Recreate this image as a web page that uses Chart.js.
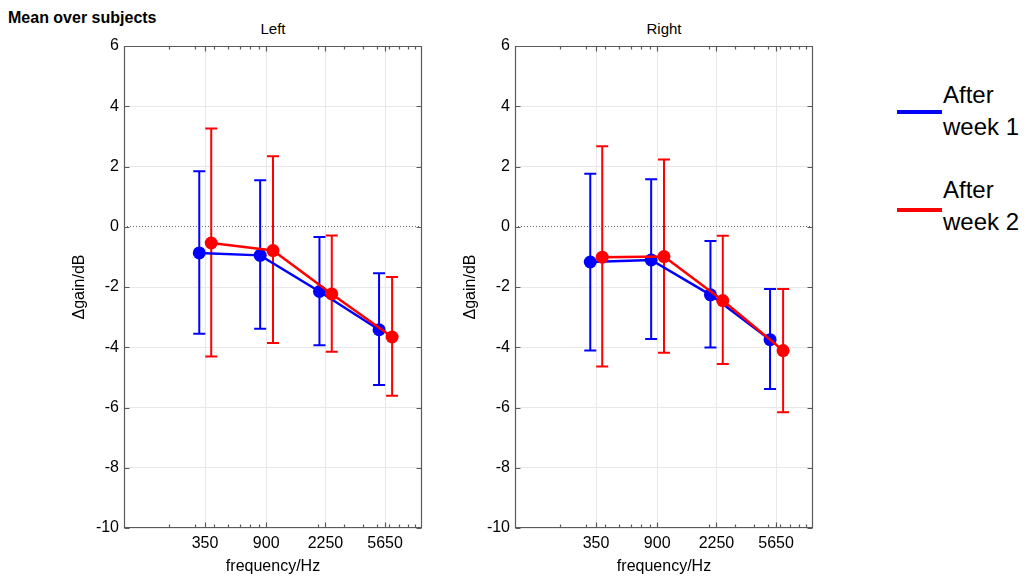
<!DOCTYPE html>
<html>
<head>
<meta charset="utf-8">
<script src="https://cdn.jsdelivr.net/npm/chart.js@4.4.1/dist/chart.umd.min.js"></script>
<style>
  body { margin: 0; background: #fff; width: 1026px; height: 578px; position: relative; overflow: hidden;
         font-family: "Liberation Sans", Arial, sans-serif; }
  canvas { position: absolute; top: 0; }
  .t { position: absolute; color: #000; white-space: nowrap; }
  .leg-line { position: absolute; height: 4px; width: 45px; }
</style>
</head>
<body>
<div class="t" style="left:8px;top:10px;font-weight:bold;font-size:16px;line-height:16px">Mean over subjects</div>
<div class="t" style="left:173px;width:200px;text-align:center;top:21px;font-size:15px;line-height:15px">Left</div>
<div class="t" style="left:564px;width:200px;text-align:center;top:21px;font-size:15px;line-height:15px">Right</div>

<canvas id="cvLeft" width="440" height="578" style="left:0"></canvas>
<canvas id="cvRight" width="400" height="578" style="left:440px"></canvas>

<div class="leg-line" style="left:897px;top:110px;background:#0000ff"></div>
<div class="t" style="left:943px;top:79px;font-size:24px;line-height:32px">After<br>week 1</div>
<div class="leg-line" style="left:897px;top:208px;background:#ff0000"></div>
<div class="t" style="left:943px;top:174px;font-size:24px;line-height:32px">After<br>week 2</div>

<script>
// ---- данные ----
const freqTicks = [350, 900, 2250, 5650];
const xMinorTicks = [200, 300, 400, 500, 600, 700, 800, 900, 2000, 3000, 4000, 5000, 6000, 7000, 8000, 9000];
const yTicks = [-10, -8, -6, -4, -2, 0, 2, 4, 6];

// точки чуть смещены по частоте, чтобы усы не перекрывались
const week1Freq = [320, 820, 2050, 5150];
const week2Freq = [385, 1000, 2480, 6300];

const leftWeek1Mean = [-0.87, -0.95, -2.15, -3.42];
const leftWeek1Lo   = [-3.55, -3.39, -3.93, -5.25];
const leftWeek1Hi   = [1.84, 1.54, -0.34, -1.54];
const leftWeek2Mean = [-0.54, -0.79, -2.23, -3.66];
const leftWeek2Lo   = [-4.31, -3.86, -4.15, -5.61];
const leftWeek2Hi   = [3.26, 2.34, -0.29, -1.67];

const rightWeek1Mean = [-1.17, -1.10, -2.26, -3.75];
const rightWeek1Lo   = [-4.11, -3.73, -4.01, -5.39];
const rightWeek1Hi   = [1.76, 1.58, -0.47, -2.07];
const rightWeek2Mean = [-1.01, -0.99, -2.45, -4.11];
const rightWeek2Lo   = [-4.64, -4.18, -4.56, -6.16];
const rightWeek2Hi   = [2.67, 2.23, -0.30, -2.07];

const BLUE = '#0000ff';
const RED = '#ff0000';

Chart.defaults.font.family = '"Liberation Sans", Arial, sans-serif';
Chart.defaults.color = '#000';

// усы: вертикаль + засечки, рисуем под линиями
const errorBars = {
  id: 'errorBars',
  beforeDatasetsDraw(chart) {
    const { ctx, scales: { x, y } } = chart;
    const sets = chart.data.datasets.slice().sort((a, b) => b.order - a.order);
    ctx.save();
    ctx.lineWidth = 2;
    for (const ds of sets) {
      ctx.strokeStyle = ds.borderColor;
      ds.data.forEach((p, j) => {
        const px = x.getPixelForValue(p.x);
        const lo = y.getPixelForValue(ds.errLo[j]);
        const hi = y.getPixelForValue(ds.errHi[j]);
        ctx.beginPath();
        ctx.moveTo(px, lo); ctx.lineTo(px, hi);
        ctx.moveTo(px - 6, lo); ctx.lineTo(px + 6, lo);
        ctx.moveTo(px - 6, hi); ctx.lineTo(px + 6, hi);
        ctx.stroke();
      });
    }
    ctx.restore();
  }
};

// рамка в стиле MATLAB с засечками внутрь
const axesBox = {
  id: 'axesBox',
  afterDraw(chart) {
    const { ctx, chartArea: { left, right, top, bottom }, scales: { x, y } } = chart;
    const L = Math.round(left) + 0.5, R = Math.round(right) - 0.5;
    const T = Math.round(top) + 0.5, B = Math.round(bottom) - 0.5;
    ctx.save();
    ctx.strokeStyle = '#5a5a5a';
    ctx.lineWidth = 1.2;
    ctx.beginPath();
    ctx.rect(L, T, R - L, B - T);
    for (const v of yTicks) {
      const py = Math.round(y.getPixelForValue(v)) + 0.5;
      ctx.moveTo(L, py); ctx.lineTo(L + 5, py);
      ctx.moveTo(R, py); ctx.lineTo(R - 5, py);
    }
    for (const v of freqTicks) {
      const px = Math.round(x.getPixelForValue(v)) + 0.5;
      ctx.moveTo(px, T); ctx.lineTo(px, T + 5);
      ctx.moveTo(px, B); ctx.lineTo(px, B - 5);
    }
    for (const v of xMinorTicks) {
      const px = Math.round(x.getPixelForValue(v)) + 0.5;
      ctx.moveTo(px, T); ctx.lineTo(px, T + 3);
      ctx.moveTo(px, B); ctx.lineTo(px, B - 3);
    }
    ctx.stroke();
    ctx.restore();
  }
};

function makePanel(cvs, p) {
  return new Chart(cvs, {
    type: 'line',
    data: {
      datasets: [
        { label: 'After week 2', data: week2Freq.map((f, i) => ({ x: f, y: p.w2[i] })),
          errLo: p.w2Lo, errHi: p.w2Hi, order: 1,
          borderColor: RED, backgroundColor: RED, borderWidth: 2.5,
          pointRadius: 6.5, pointBorderWidth: 0, pointBackgroundColor: RED },
        { label: 'After week 1', data: week1Freq.map((f, i) => ({ x: f, y: p.w1[i] })),
          errLo: p.w1Lo, errHi: p.w1Hi, order: 2,
          borderColor: BLUE, backgroundColor: BLUE, borderWidth: 2.5,
          pointRadius: 6.5, pointBorderWidth: 0, pointBackgroundColor: BLUE },
      ],
    },
    options: {
      responsive: false, animation: false,
      layout: { padding: { left: 0, right: p.padRight, top: 46, bottom: 0 } },
      plugins: { legend: { display: false }, tooltip: { enabled: false }, title: { display: false } },
      scales: {
        x: {
          type: 'logarithmic', min: 100, max: 10000,
          afterBuildTicks: (s) => { s.ticks = freqTicks.map(v => ({ value: v })); },
          afterFit: (s) => { s.height = 50; },
          ticks: { callback: (v) => String(v), autoSkip: false, maxRotation: 0, padding: 6, font: { size: 16 } },
          grid: { color: '#e8e8e8', lineWidth: 1, drawTicks: false },
          border: { display: false },
          title: { display: true, text: 'frequency/Hz', font: { size: 16 }, padding: { top: 0, bottom: 2 } },
        },
        y: {
          min: -10, max: 6,
          afterBuildTicks: (s) => { s.ticks = yTicks.map(v => ({ value: v })); },
          afterFit: (s) => { s.width = p.yWidth; },
          ticks: { padding: 5, font: { size: 16 } },
          grid: { color: (c) => (c.tick && c.tick.value === 0) ? '#666' : '#e8e8e8', lineWidth: 1, drawTicks: false },
          border: { display: false, dash: (c) => (c.tick && c.tick.value === 0) ? [1, 2] : [] },
          title: { display: true, text: 'Δgain/dB', font: { size: 16 }, padding: { top: p.yTitlePad, bottom: 0 } },
        },
      },
    },
    plugins: [errorBars, axesBox],
  });
}

makePanel(document.getElementById('cvLeft'), {
  w1: leftWeek1Mean, w1Lo: leftWeek1Lo, w1Hi: leftWeek1Hi,
  w2: leftWeek2Mean, w2Lo: leftWeek2Lo, w2Hi: leftWeek2Hi,
  yWidth: 124, padRight: 18, yTitlePad: 70,
});
makePanel(document.getElementById('cvRight'), {
  w1: rightWeek1Mean, w1Lo: rightWeek1Lo, w1Hi: rightWeek1Hi,
  w2: rightWeek2Mean, w2Lo: rightWeek2Lo, w2Hi: rightWeek2Hi,
  yWidth: 75, padRight: 27, yTitlePad: 21,
});
</script>
</body>
</html>
